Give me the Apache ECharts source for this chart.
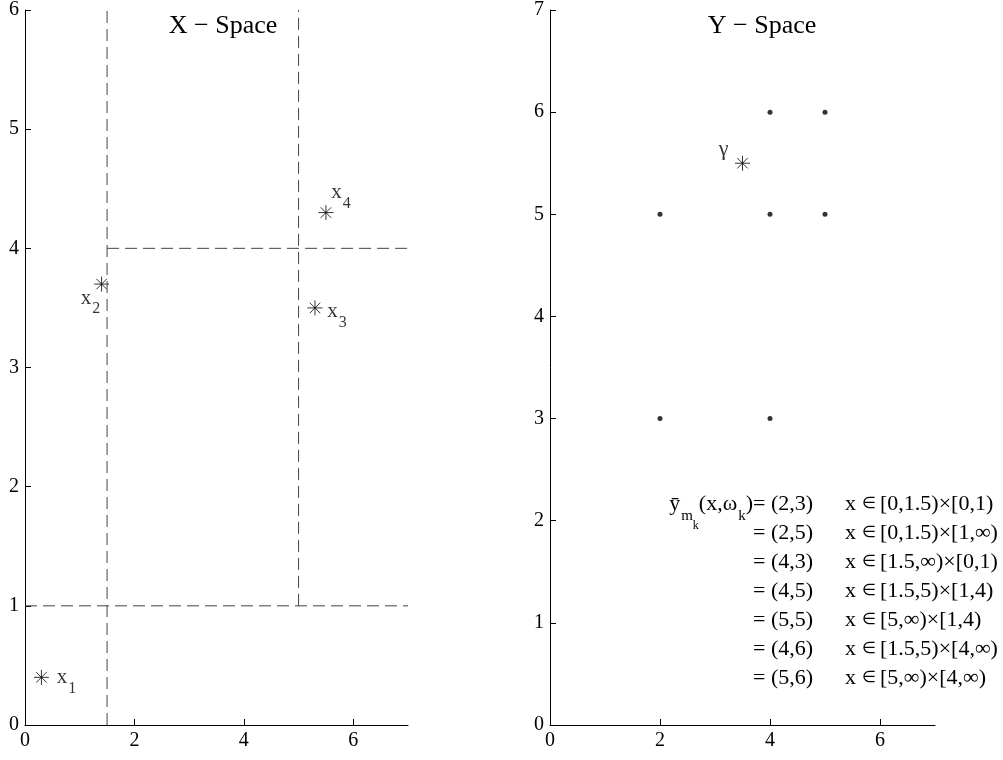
<!DOCTYPE html>
<html><head><meta charset="utf-8">
<script src="https://cdn.jsdelivr.net/npm/echarts@6/dist/echarts.min.js"></script>
<style>html,body{margin:0;padding:0;background:#fff}#c{width:1003px;height:760px}</style>
</head><body><div id="c"></div>
<script>
// ---- data ----
const xSpacePoints = [[0.3, 0.4], [1.4, 3.7], [5.3, 3.5], [5.5, 4.3]];
const xSpaceSubs = ['1', '2', '3', '4'];
const partitionLines = [
  [[1.5, 0], [1.5, 6]],
  [[5, 1], [5, 6]],
  [[0, 1], [7, 1]],
  [[1.5, 4], [7, 4]]
];
const ySpaceDots = [[2, 3], [2, 5], [4, 3], [4, 5], [5, 5], [4, 6], [5, 6]];
const gammaPoint = [[3.5, 5.5]];
const xTicks = [0, 2, 4, 6];
const leftYTicks = [0, 1, 2, 3, 4, 5, 6];
const rightYTicks = [0, 1, 2, 3, 4, 5, 6, 7];
const titles = ['X \u2212 Space', 'Y \u2212 Space'];
const mapValues = ['(2,3)', '(2,5)', '(4,3)', '(4,5)', '(5,5)', '(4,6)', '(5,6)'];
const mapRegions = ['[0,1.5)\u00d7[0,1)', '[0,1.5)\u00d7[1,\u221e)', '[1.5,\u221e)\u00d7[0,1)',
  '[1.5,5)\u00d7[1,4)', '[5,\u221e)\u00d7[1,4)', '[1.5,5)\u00d7[4,\u221e)', '[5,\u221e)\u00d7[4,\u221e)'];

// ---- styling ----
const FF = '"Liberation Serif", "Times New Roman", serif';
const FS = 20;
const STAR = 'path://M10,0L10,20M0,10L20,10M3,3L17,17M3,17L17,3';
const richSub = {
  b: { fontFamily: FF, fontSize: 21, color: '#000' },
  s: { fontFamily: FF, fontSize: 16, color: '#000', padding: [22, 0, 0, 1] }
};

const chart = echarts.init(document.getElementById('c'), null, { renderer: 'canvas' });

function axisX(gi) {
  return {
    gridIndex: gi, type: 'value', min: 0, max: 7, interval: 2,
    axisLine: { show: true, onZero: false, lineStyle: { color: '#000', width: 1 } },
    axisTick: { show: true, inside: true, length: 6, customValues: xTicks, lineStyle: { color: '#000' } },
    axisLabel: { customValues: xTicks, fontFamily: FF, fontSize: FS, color: '#000', margin: 6 },
    splitLine: { show: false }
  };
}
function axisY(gi, max, ticks) {
  return {
    gridIndex: gi, type: 'value', min: 0, max: max, interval: 1,
    axisLine: { show: true, onZero: false, lineStyle: { color: '#000', width: 1 } },
    axisTick: { show: true, inside: true, length: 6, customValues: ticks, lineStyle: { color: '#000' } },
    axisLabel: { customValues: ticks, fontFamily: FF, fontSize: FS, color: '#000', margin: 6 },
    splitLine: { show: false }
  };
}

const labelOffsets = [[25, 0], [-11, 14], [22, 4], [15, -20]];

const series = [];
partitionLines.forEach(seg => {
  series.push({
    type: 'line', xAxisIndex: 0, yAxisIndex: 0, data: seg, symbol: 'none',
    lineStyle: { color: '#444', width: 1, type: [12, 6] }, silent: true, animation: false
  });
});
series.push({
  type: 'scatter', xAxisIndex: 0, yAxisIndex: 0, symbol: STAR, symbolSize: 15,
  itemStyle: { color: '#000', borderColor: '#000', borderWidth: 1 },
  data: xSpacePoints.map((p, i) => ({
    value: p,
    label: {
      show: true, position: 'inside', offset: labelOffsets[i], color: '#000',
      formatter: '{b|x}{s|' + xSpaceSubs[i] + '}', rich: richSub
    }
  })),
  animation: false
});
series.push({
  type: 'scatter', xAxisIndex: 1, yAxisIndex: 1, symbol: 'circle', symbolSize: 5,
  itemStyle: { color: '#000' }, data: ySpaceDots, animation: false
});
series.push({
  type: 'scatter', xAxisIndex: 1, yAxisIndex: 1, symbol: STAR, symbolSize: 15,
  itemStyle: { color: '#000', borderColor: '#000', borderWidth: 1 },
  data: gammaPoint,
  label: { show: true, position: 'inside', offset: [-19, -14], formatter: '\u03b3',
    fontFamily: FF, fontSize: 22, color: '#000' },
  animation: false
});

// text block
const colB = 753, colX = 845, colC = 880, line0 = 504, lineStep = 29;
const TF = 22;
const tb = { fontFamily: FF, fontSize: TF, color: '#000' };
const graphics = [];
graphics.push({
  type: 'text', x: colB, y: line0,
  style: {
    text: '{b|\u0233}{s1|m}{s2|k}{b|(x,\u03c9}{s1|k}{b|)}',
    align: 'right', verticalAlign: 'middle',
    rich: {
      b: tb,
      s1: { fontFamily: FF, fontSize: 15, color: '#000', padding: [24, 0, 0, 1] },
      s2: { fontFamily: FF, fontSize: 12, color: '#000', padding: [44, 0, 0, 0] }
    }
  }
});
mapValues.forEach((v, i) => {
  const y = line0 + i * lineStep;
  graphics.push({
    type: 'text', x: colB, y: y,
    style: { text: '= ' + v, align: 'left', verticalAlign: 'middle', font: TF + 'px ' + FF, fill: '#000' }
  });
  graphics.push({
    type: 'text', x: colX, y: y,
    style: {
      text: '{b|x }{e|\u2208}', align: 'left', verticalAlign: 'middle',
      rich: { b: tb, e: { fontFamily: FF, fontSize: 16, color: '#000' } }
    }
  });
  graphics.push({
    type: 'text', x: colC, y: y,
    style: { text: mapRegions[i], align: 'left', verticalAlign: 'middle', font: TF + 'px ' + FF, fill: '#000' }
  });
});

chart.setOption({
  animation: false,
  backgroundColor: '#fff',
  title: [
    { text: titles[0], left: 223, top: 13, textAlign: 'center', padding: 0,
      textStyle: { fontFamily: FF, fontSize: 26, fontWeight: 'normal', color: '#000' } },
    { text: titles[1], left: 762, top: 13, textAlign: 'center', padding: 0,
      textStyle: { fontFamily: FF, fontSize: 26, fontWeight: 'normal', color: '#000' } }
  ],
  grid: [
    { left: 25, right: 595, top: 7, bottom: 35 },
    { left: 550, right: 68, top: 7, bottom: 35 }
  ],
  xAxis: [axisX(0), axisX(1)],
  yAxis: [axisY(0, 6, leftYTicks), axisY(1, 7, rightYTicks)],
  series: series,
  graphic: graphics
});
</script></body></html>
